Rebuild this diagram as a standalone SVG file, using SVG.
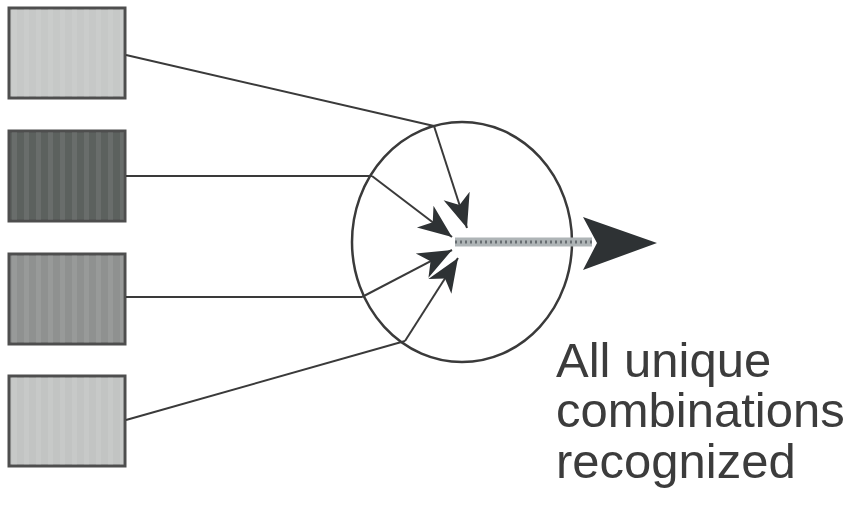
<svg xmlns="http://www.w3.org/2000/svg" width="857" height="513" viewBox="0 0 857 513">
<style>
.box{stroke:#4e4e4e;stroke-width:3}
.ln{stroke:#3a3a3a;stroke-width:2;fill:none}
.lbl{font-family:"Liberation Sans",Arial,sans-serif;font-size:49px;fill:#3c3c3c}
</style>
<defs>
<marker id="ah" markerUnits="userSpaceOnUse" markerWidth="40" markerHeight="40" viewBox="-34 -16 38 32" refX="0" refY="0" orient="auto">
<path d="M0,0 L-32,-13 L-23,0 L-32,13 Z" fill="#2e3234"/>
</marker>
<pattern id="stripe" width="12" height="6" patternUnits="userSpaceOnUse">
<rect x="0" width="5" height="6" fill="#ffffff" opacity="0.08"/>
</pattern>
</defs>
<rect width="857" height="513" fill="#ffffff"/>
<g id="node-input-1"><rect class="box" x="9" y="8" width="116" height="90" fill="#c6c8c7"/><rect x="10" y="9" width="114" height="88" fill="url(#stripe)"/></g>
<g id="node-input-2"><rect class="box" x="9" y="131" width="116" height="90" fill="#5c615e"/><rect x="10" y="132" width="114" height="88" fill="url(#stripe)"/></g>
<g id="node-input-3"><rect class="box" x="9" y="254" width="116" height="90" fill="#8f9190"/><rect x="10" y="255" width="114" height="88" fill="url(#stripe)"/></g>
<g id="node-input-4"><rect class="box" x="9" y="376" width="116" height="90" fill="#c2c4c3"/><rect x="10" y="377" width="114" height="88" fill="url(#stripe)"/></g>
<g id="node-neuron"><ellipse cx="462" cy="242" rx="110" ry="120" fill="none" stroke="#3a3a3a" stroke-width="2.5"/></g>
<g id="connectors">
<polyline class="ln" points="126,55 434,126"/>
<line class="ln" x1="434" y1="126" x2="467" y2="228" marker-end="url(#ah)"/>
<polyline class="ln" points="126,176 372,176"/>
<line class="ln" x1="372" y1="176" x2="452" y2="237" marker-end="url(#ah)"/>
<polyline class="ln" points="126,297 362,297"/>
<line class="ln" x1="362" y1="297" x2="452" y2="250" marker-end="url(#ah)"/>
<polyline class="ln" points="126,420 405,341"/>
<line class="ln" x1="405" y1="341" x2="458" y2="258" marker-end="url(#ah)"/>
<line x1="455" y1="242" x2="592" y2="242" stroke="#aeb4b6" stroke-width="9"/>
<line x1="455" y1="242" x2="592" y2="242" stroke="#676d71" stroke-width="3" stroke-dasharray="2 3"/>
<path d="M657,243 L583,217 L597,243 L583,270 Z" fill="#2e3234"/>
</g>
<g id="label">
<text class="lbl" x="556" y="377">All unique</text>
<text class="lbl" x="556" y="427">combinations</text>
<text class="lbl" x="556" y="478">recognized</text>
</g>
</svg>
